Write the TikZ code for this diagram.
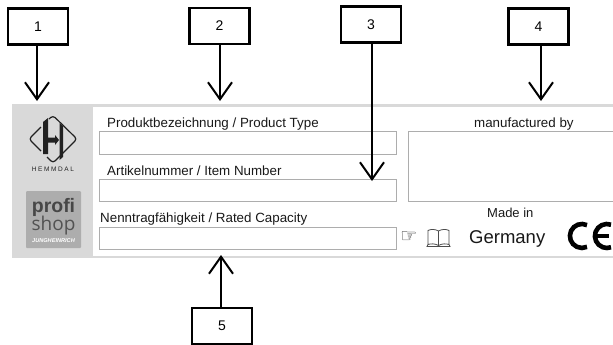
\documentclass[tikz,border=0pt]{standalone}
\usepackage{fontspec}
\setmainfont{Liberation Sans}
\newfontfamily\djv{DejaVu Sans}
\newfontfamily\opens{Open Sans}
\usetikzlibrary{arrows.meta}
\definecolor{panelgray}{gray}{0.85}
\definecolor{fieldgray}{gray}{0.68}
\definecolor{logodark}{gray}{0.13}
\tikzset{
  numbox/.style={draw=black,line width=2.8pt,fill=white,minimum width=60pt,minimum height=36pt,inner sep=0pt,font=\fontsize{14}{16}\selectfont},
  pointer/.style={line width=2pt,-{Straight Barb[length=17pt,width=24pt,line width=2pt]}},
  fieldbox/.style={draw=fieldgray,line width=0.9pt,fill=white,anchor=north west,inner sep=0pt},
  lab/.style={anchor=base west,inner sep=0pt,font=\fontsize{13.35}{15}\selectfont,text=black!90},
}
\begin{document}
\begin{tikzpicture}[x=1pt,y=-1pt]
\useasboundingbox (0,0) rectangle (613,345);
\fill[white] (0,0) rectangle (613,345);
% panel
\fill[panelgray] (12,104) rectangle (613,258);
\fill[white] (93,107) rectangle (613,256);
% fields
\node[fieldbox,minimum width=297pt,minimum height=23pt] (f1) at (99,131) {};
\node[fieldbox,minimum width=297pt,minimum height=22pt] (f2) at (99,179) {};
\node[fieldbox,minimum width=297pt,minimum height=22pt] (f3) at (99,227) {};
\node[fieldbox,minimum width=204.5pt,minimum height=70pt] (f4) at (408,131) {};
% labels
\node[lab] (l1) at (107,127) {Produktbezeichnung / Product Type};
\node[lab] (l2) at (107,175) {Artikelnummer / Item Number};
\node[lab] (l3) at (100,222) {Nenntragfähigkeit / Rated Capacity};
\node[lab] (l4) at (474,127) {manufactured by};
\node[lab,font=\fontsize{13}{15}\selectfont] (l5) at (487,217) {Made in};
\node[lab,font=\fontsize{18.5}{20}\selectfont] (l6) at (469,243) {Germany};
% hand
\node[inner sep=0pt,text=black!85,font=\djv\fontsize{19}{19}\selectfont] (hand) at (409,237) {☞};
% book
\begin{scope}[draw=black!70,line width=0.8pt]
\draw (428,230.5) .. controls (431,229) and (435,229) .. (438.5,231) .. controls (442,229) and (446,229) .. (449,230.5) -- (449,244.5) .. controls (446,243.5) and (442,243.5) .. (438.5,245.5) .. controls (435,243.5) and (431,243.5) .. (428,244.5) -- cycle;
\draw (438.5,231) -- (438.5,245.5);
\draw (428,244.5) -- (427,246.5) -- (450,246.5) -- (449,244.5);
\end{scope}
% CE mark
\draw[line width=4.6pt,black] (587,225.1) arc[start angle=-65,end angle=-295,radius=12];
\draw[line width=4.6pt,black] (611,224.7) arc[start angle=-70,end angle=-290,radius=12];
\draw[line width=3.6pt,black] (596,236) -- (609,236);
% Hemmdal logo
\begin{scope}
\draw[logodark,line width=1.2pt,rounded corners=3pt] (49,119) -- (53,115.5) -- (77,139) -- (53,163) -- (47,157);
\draw[logodark,line width=1.2pt,rounded corners=3pt] (41,127) -- (29,139) -- (41,151);
\fill[logodark] (43,122) -- (48,118) -- (48,137.5) -- (55,137.5) -- (55,135) -- (59,140) -- (55,145) -- (55,142.5) -- (48,142.5) -- (48,154) -- (43,154) -- cycle;
\fill[logodark] (59.5,123) -- (63,126) -- (63,157) -- (59.5,160) -- cycle;
\node[inner sep=0pt,text=logodark,font=\fontsize{6.5}{7}\selectfont] (hem) at (53,169) {H\hspace{1.6pt}E\hspace{1.6pt}M\hspace{1.6pt}M\hspace{1.6pt}D\hspace{1.6pt}A\hspace{1.6pt}L};
\end{scope}
% Profishop logo
\fill[black!32,rounded corners=1pt] (26,191) rectangle (81,248);
\node[inner sep=0pt,anchor=base,text=black!72,font=\bfseries\fontsize{19.5}{20}\selectfont] (pro) at (53.5,212) {profi};
\node[inner sep=0pt,anchor=base,text=black!68,font=\opens\fontsize{19}{20}\selectfont] (sho) at (53.5,230) {shop};
\node[inner sep=0pt,text=white,font=\bfseries\itshape\fontsize{5.6}{6}\selectfont] (jun) at (53.5,241) {JUNGHEINRICH};
% numbered boxes
\node[numbox] (n1) at (38,26.5) {1};
\node[numbox] (n2) at (219.5,26) {2};
\node[numbox] (n3) at (371,24.5) {3};
\node[numbox] (n4) at (538.5,26.5) {4};
\node[numbox] (n5) at (222,326) {5};
\coordinate (t1) at (37,101);
\coordinate (t2) at (220,101);
\coordinate (t3) at (372,181);
\coordinate (t4) at (541,101);
\coordinate (t5) at (221,255);
\draw[pointer] (n1.south -| t1) -- (t1);
\draw[pointer] (n2.south -| t2) -- (t2);
\draw[pointer] (n3.south -| t3) -- (t3);
\draw[pointer] (n4.south -| t4) -- (t4);
\draw[pointer] (n5.north -| t5) -- (t5);
\end{tikzpicture}
\end{document}
